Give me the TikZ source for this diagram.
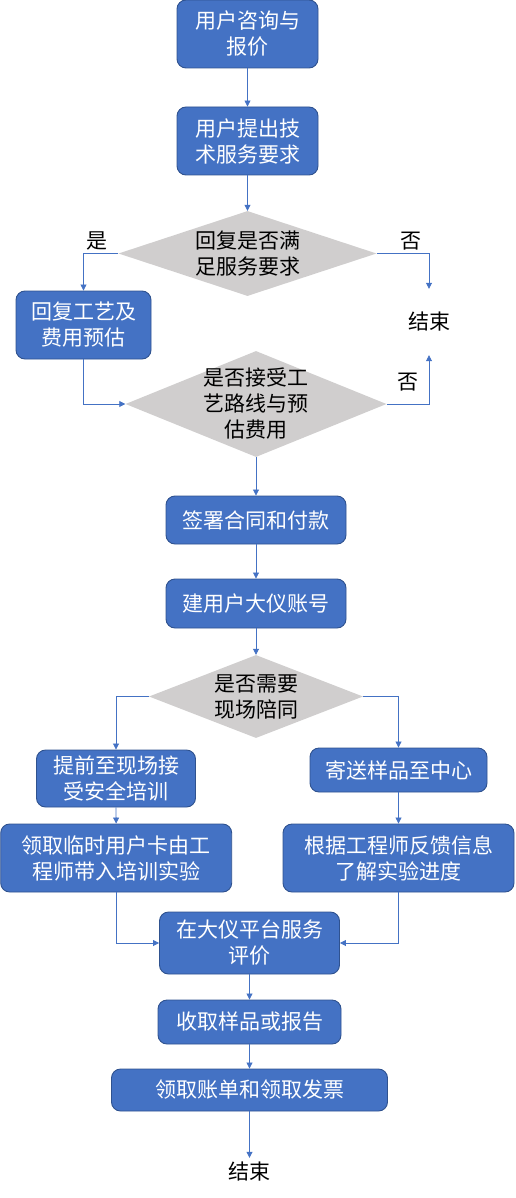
\documentclass[tikz,border=0pt]{standalone}
\usepackage{fontspec}
\setmainfont{Noto Sans CJK SC}
\usetikzlibrary{arrows.meta,shapes,positioning}
\definecolor{boxblue}{HTML}{4472C4}
\definecolor{boxedge}{HTML}{2F528F}
\definecolor{askgray}{HTML}{D0CECE}

\begin{document}
\begin{tikzpicture}[x=1pt, y=-1pt]
        \tikzstyle{block} = [rectangle, rounded corners=9pt, draw=boxedge,
                             line width=0.9pt, fill=boxblue, text=white,
                             align=center, inner sep=0pt,
                             font=\fontsize{21}{26}\selectfont]
        \tikzstyle{note} = [align=center, text=black,
                            font=\fontsize{21}{26}\selectfont]
        \tikzstyle{ask} = [diamond, fill=askgray, inner sep=0pt]
        \tikzstyle{arrow} = [draw=boxblue, line width=0.8pt,
                             -{Triangle[width=6pt,length=6pt]}]
        \useasboundingbox (0,0) rectangle (515,1198);
        % top part
        \node[block, minimum width=141, minimum height=68] (consult)
          at (247.5,34) {用户咨询与\\报价};
        \node[block, minimum width=141, minimum height=68] (req)
          at (247.5,141) {用户提出技\\术服务要求};
        \path[arrow] (consult) -- (req);
        \node[ask, minimum width=258, minimum height=85,
              label={[note]center:回复是否满\\足服务要求}] (meet)
          at (247.5,253.5) {};
        \path[arrow] (req) -- (meet);
        \node[note, minimum height=66, inner sep=0pt] (endA) at (429,322) {结束};
        \node[block, minimum width=135, minimum height=68] (quote)
          at (83.5,325) {回复工艺及\\费用预估};
        \path[arrow] (meet.west) -| node[note, pos=0.3, above] {是} (quote.north);
        \path[arrow] (meet.east) -| node[note, pos=0.33, above] {否} (endA.north);
        \node[ask, minimum width=261, minimum height=106,
              label={[note]center:是否接受工\\艺路线与预\\估费用}] (accept)
          at (256,404) {};
        \path[arrow] (quote.south) |- (accept.west);
        \path[arrow] (accept.east) -| node[note, pos=0.25, above=9pt] {否} (endA.south);
        % contract and account
        \node[block, minimum width=180, minimum height=48] (sign)
          at (256,520) {签署合同和付款};
        \path[arrow] (accept) -- (sign);
        \node[block, minimum width=180, minimum height=49] (acct)
          at (256,603.5) {建用户大仪账号};
        \path[arrow] (sign) -- (acct);
        \node[ask, minimum width=214, minimum height=83,
              label={[note]center:是否需要\\现场陪同}] (onsite)
          at (256,696.5) {};
        \path[arrow] (acct) -- (onsite);
        % two branches
        \node[block, minimum width=159, minimum height=57] (safety)
          at (116,778.5) {提前至现场接\\受安全培训};
        \node[block, minimum width=177, minimum height=44] (mail)
          at (398.5,770) {寄送样品至中心};
        \path[arrow] (onsite.west) -| (safety.north);
        \path[arrow] (onsite.east) -| (mail.north);
        \node[block, minimum width=231, minimum height=68] (card)
          at (116.2,858) {领取临时用户卡由工\\程师带入培训实验};
        \node[block, minimum width=231, minimum height=68] (track)
          at (398.5,858) {根据工程师反馈信息\\了解实验进度};
        \path[arrow] (safety) -- (card);
        \path[arrow] (mail) -- (track);
        % closing steps
        \node[block, minimum width=180, minimum height=62] (rate)
          at (249.5,943) {在大仪平台服务\\评价};
        \path[arrow] (card.south) |- (rate.west);
        \path[arrow] (track.south) |- (rate.east);
        \node[block, minimum width=183, minimum height=44] (fetch)
          at (249.5,1022) {收取样品或报告};
        \path[arrow] (rate) -- (fetch);
        \node[block, minimum width=276, minimum height=42] (bill)
          at (249.5,1090) {领取账单和领取发票};
        \path[arrow] (fetch) -- (bill);
        \node[note] (endB) at (249.5,1171) {结束};
        \path[arrow] (bill) -- (endB);
\end{tikzpicture}
\end{document}
